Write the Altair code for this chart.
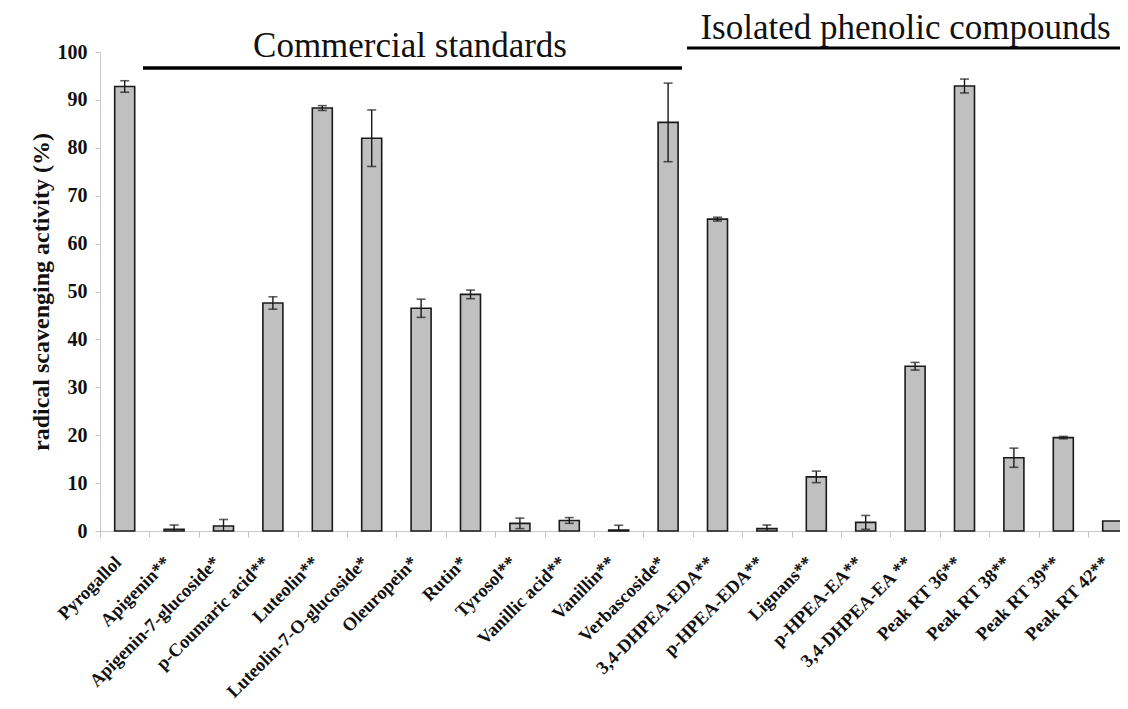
import altair as alt
import pandas as pd

compounds = [
    "Pyrogallol", "Apigenin**", "Apigenin-7-glucoside*", "p-Coumaric acid**",
    "Luteolin**", "Luteolin-7-O-glucoside*", "Oleuropein*", "Rutin*",
    "Tyrosol**", "Vanillic acid**", "Vanillin**", "Verbascoside*",
    "3,4-DHPEA-EDA**", "p-HPEA-EDA**", "Lignans**", "p-HPEA-EA**",
    "3,4-DHPEA-EA **", "Peak  RT 36**", "Peak RT  38**", "Peak RT 39**",
    "Peak RT 42**",
]
activity = [92.8, 0.35, 1.05, 47.6, 88.3, 82.0, 46.5, 49.4, 1.6, 2.2, 0.2,
            85.3, 65.1, 0.5, 11.3, 1.8, 34.4, 92.9, 15.3, 19.5, 2.1]
sd = [1.2, 0.9, 1.35, 1.3, 0.5, 5.9, 1.9, 0.9, 1.1, 0.6, 1.0,
      8.2, 0.4, 0.75, 1.2, 1.45, 0.8, 1.45, 2.0, 0.25, 0.0]

groups = ["Commercial standards", "Isolated phenolic compounds"]

df = pd.DataFrame({"compound": compounds, "activity": activity, "sd": sd})

SERIF = "Liberation Serif"
BAND = 49.4

xenc = alt.X(
    "compound:N",
    sort=compounds,
    title=None,
    scale=alt.Scale(range=[0, BAND * len(compounds)], paddingInner=0, paddingOuter=0),
    axis=alt.Axis(
        tickBand="extent",
        labelAngle=-45,
        labelAlign="right",
        labelBaseline="bottom",
        labelFont=SERIF,
        labelFontWeight="bold",
        labelFontSize=18.5,
        labelColor="#111",
        labelPadding=29,
        labelLimit=400,
        tickSize=6,
        tickColor="#c0c0c0",
        domainColor="#c8c8c8",
        labelOverlap=False,
    ),
)
yscale = alt.Scale(domain=[0, 100], nice=False)
yenc = alt.Y(
    "activity:Q",
    scale=yscale,
    title="radical scavenging activity (%)",
    axis=alt.Axis(
        values=list(range(0, 101, 10)),
        grid=False,
        labelFont=SERIF,
        labelFontWeight="bold",
        labelFontSize=20,
        labelColor="#111",
        labelPadding=8,
        tickSize=5,
        tickColor="#c0c0c0",
        domainColor="#c8c8c8",
        titleFont=SERIF,
        titleFontWeight="bold",
        titleFontSize=24,
        titleColor="#111",
        titlePadding=4,
    ),
)

base = alt.Chart(df).transform_calculate(
    lo="datum.activity - datum.sd", hi="datum.activity + datum.sd"
)

bars = base.mark_bar(size=20, fill="#c0c0c0", stroke="#1a1a1a", strokeWidth=1.6).encode(
    x=xenc, y=yenc
)
err = base.transform_filter("datum.sd > 0")
rule = err.mark_rule(color="#1a1a1a", strokeWidth=1.4, clip=True).encode(
    x=alt.X("compound:N", sort=compounds), y=alt.Y("lo:Q", scale=yscale), y2="hi:Q"
)
cap_hi = err.mark_tick(color="#1a1a1a", size=9, thickness=1.6, clip=True).encode(
    x=alt.X("compound:N", sort=compounds), y=alt.Y("hi:Q", scale=yscale)
)
cap_lo = err.mark_tick(color="#1a1a1a", size=9, thickness=1.6, clip=True).encode(
    x=alt.X("compound:N", sort=compounds), y=alt.Y("lo:Q", scale=yscale)
)

ann = alt.Chart(pd.DataFrame({"g": [0]}))
t1 = ann.mark_text(font=SERIF, fontSize=35, align="center", baseline="alphabetic", color="#111").encode(
    x=alt.value(310), y=alt.datum(98.96), text=alt.value(groups[0])
)
t2 = ann.mark_text(font=SERIF, fontSize=35, align="center", baseline="alphabetic", color="#111").encode(
    x=alt.value(805.5), y=alt.datum(102.72), text=alt.value(groups[1])
)
l1 = ann.mark_rule(color="#000", strokeWidth=3.5).encode(
    x=alt.value(43), x2=alt.value(582), y=alt.datum(96.66)
)
l2 = ann.mark_rule(color="#000", strokeWidth=3).encode(
    x=alt.value(587), x2=alt.value(1030), y=alt.datum(100.84)
)

chart = (
    alt.layer(bars, rule, cap_hi, cap_lo, l1, l2, t1, t2)
    .properties(
        width=1020,
        height=479,
        autosize=alt.AutoSizeParams(type="none"),
        padding={"left": 92, "top": 44, "right": 0, "bottom": 170},
        background="white",
    )
    .configure_view(stroke=None)
)

chart.save("out.html", embed_options={"renderer": "svg", "actions": False})
